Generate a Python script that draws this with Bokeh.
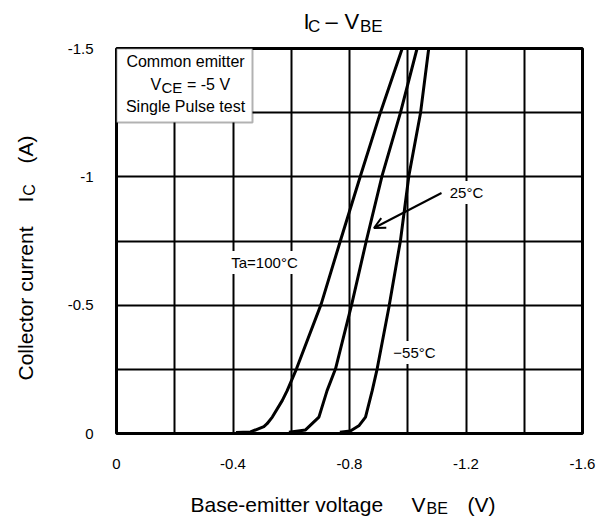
import math
from bokeh.plotting import figure
from bokeh.layouts import column, row
from bokeh.models import (Range1d, FixedTicker, CustomJSTickFormatter, Label,
                          BoxAnnotation, Arrow, OpenHead)
from bokeh.embed import file_html
from bokeh.resources import INLINE

# ---- data ----
vbe_100 = [-0.41, -0.46, -0.506, -0.517, -0.535, -0.569, -0.586, -0.618, -0.703, -0.769, -0.838, -0.906, -0.981]
ic_100 = [-0.004, -0.006, -0.027, -0.038, -0.064, -0.128, -0.167, -0.252, -0.505, -0.752, -1.005, -1.25, -1.5]

vbe_25 = [-0.592, -0.649, -0.695, -0.723, -0.752, -0.808, -0.858, -0.912, -0.975, -1.032]
ic_25 = [-0.005, -0.014, -0.064, -0.167, -0.252, -0.505, -0.752, -1.005, -1.25, -1.5]

vbe_m55 = [-0.767, -0.803, -0.832, -0.855, -0.878, -0.895, -0.935, -0.975, -1.004, -1.044, -1.072]
ic_m55 = [-0.005, -0.01, -0.03, -0.064, -0.167, -0.252, -0.49, -0.752, -1.005, -1.25, -1.5]

x_ticks = [0, -0.4, -0.8, -1.2, -1.6]
y_ticks = [0, -0.5, -1, -1.5]
x_grid = [0, -0.2, -0.4, -0.6, -0.8, -1.0, -1.2, -1.4, -1.6]
y_grid = [0, -0.25, -0.5, -0.75, -1.0, -1.25, -1.5]

FONT = "Liberation Sans"

# page layout (pixels)
W = 600
TITLE_H = 40
YLAB_W = 50
MAIN_H = 438
XLAB_H = 42
MAIN_Y0 = TITLE_H                 # main figure top on page
XLAB_Y0 = TITLE_H + MAIN_H        # x-label figure top on page
FRAME_TOP, FRAME_BOTTOM = 48, 433

p = figure(width=W - YLAB_W, height=MAIN_H, output_backend="svg", toolbar_location=None,
           title=None,
           x_range=Range1d(0, -1.6), y_range=Range1d(0, -1.5),
           min_border_left=116 - YLAB_W, min_border_right=W - 582,
           min_border_top=FRAME_TOP - MAIN_Y0, min_border_bottom=MAIN_Y0 + MAIN_H - FRAME_BOTTOM)

p.outline_line_color = "black"
p.outline_line_width = 3
p.background_fill_color = "white"
p.border_fill_color = "white"

for ax in (p.xaxis[0], p.yaxis[0]):
    ax.axis_line_color = None
    ax.major_tick_line_color = None
    ax.minor_tick_line_color = None
    ax.major_label_text_font = FONT
    ax.major_label_text_font_size = "15px"
    ax.major_label_text_color = "black"
    ax.formatter = CustomJSTickFormatter(code="return tick.toString();")
p.xaxis[0].ticker = FixedTicker(ticks=x_ticks)
p.yaxis[0].ticker = FixedTicker(ticks=y_ticks)
p.xaxis[0].major_label_standoff = 19
p.yaxis[0].major_label_standoff = 17

p.xgrid[0].ticker = FixedTicker(ticks=x_grid)
p.ygrid[0].ticker = FixedTicker(ticks=y_grid)
for g in (p.xgrid[0], p.ygrid[0]):
    g.grid_line_color = "black"
    g.grid_line_width = 2
    g.grid_line_alpha = 1.0

for xs, ys in ((vbe_100, ic_100), (vbe_25, ic_25), (vbe_m55, ic_m55)):
    p.line(xs, ys, line_color="black", line_width=3, line_join="round")


# ---- helpers: page pixel -> data coordinates of the main plot (annotation placement) ----
def px2x(px):
    return -(px - 116) * 1.6 / 466


def py2y(py):
    return -(433 - py) * 1.5 / 385


def txt(text, xpx, ypx, size, align="left", bg=None):
    lab = Label(x=px2x(xpx), y=py2y(ypx), text=text, text_font=FONT,
                text_font_size=f"{size}px", text_color="black",
                text_align=align, text_baseline="middle")
    if bg:
        lab.background_fill_color = bg
        lab.padding = 3
    p.add_layout(lab)


def blank(w, h, y_range=None, top=0, bottom=0):
    f = figure(width=w, height=h, output_backend="svg", toolbar_location=None,
               title=None, x_axis_type=None, y_axis_type=None,
               x_range=Range1d(0, w), y_range=y_range or Range1d(h, 0),
               min_border_left=0, min_border_right=0,
               min_border_top=top, min_border_bottom=bottom)
    f.outline_line_color = None
    f.background_fill_color = "white"
    f.border_fill_color = "white"
    return f


def ftxt(f, text, x, y, size, align="left", angle=0.0):
    f.add_layout(Label(x=x, y=y, text=text, text_font=FONT, text_font_size=f"{size}px",
                       text_color="black", text_align=align,
                       text_baseline="middle", angle=angle))


# Title  I_C – V_BE
t = blank(W, TITLE_H)
ftxt(t, "I", 303, 21, 22)
ftxt(t, "C", 307.5, 26, 17)
ftxt(t, "\u2013", 325, 21, 22)
ftxt(t, "V", 344, 21, 22)
ftxt(t, "BE", 359.5, 26, 17)

# y axis label (rotated); its frame spans the same page rows as the main frame
yl = blank(YLAB_W, MAIN_H, y_range=Range1d(FRAME_BOTTOM, FRAME_TOP),
           top=FRAME_TOP - MAIN_Y0, bottom=MAIN_Y0 + MAIN_H - FRAME_BOTTOM)
ang = math.pi / 2
ftxt(yl, "Collector current", 25, 303, 21, align="center", angle=ang)
ftxt(yl, "I", 25, 199, 21, align="center", angle=ang)
ftxt(yl, "C", 28.5, 189.5, 16, align="center", angle=ang)
ftxt(yl, "(A)", 25, 149, 21, align="center", angle=ang)

# x axis label
xl = blank(W, XLAB_H)
ftxt(xl, "Base-emitter voltage", 190, 504 - XLAB_Y0, 21)
ftxt(xl, "V", 411, 504 - XLAB_Y0, 21)
ftxt(xl, "BE", 426, 508 - XLAB_Y0, 16)
ftxt(xl, "(V)", 467, 504 - XLAB_Y0, 21)

# condition box
p.add_layout(BoxAnnotation(left=0, right=px2x(252), top=-1.5, bottom=py2y(122),
                           fill_color="white", fill_alpha=1.0,
                           line_color="black", line_width=2, level="annotation"))
txt("Common emitter", 185, 61, 16, align="center")
txt("V", 150, 83.5, 16)
txt("CE", 161, 86.5, 15)
txt("= -5 V", 186.5, 83.5, 16)
txt("Single Pulse test", 185, 106, 16, align="center")

# curve labels
txt("Ta=100\u00b0C", 264, 262, 15, align="center", bg="white")
txt("25\u00b0C", 466, 192, 15, align="center", bg="white")
txt("\u221255\u00b0C", 414, 352, 15, align="center", bg="white")

p.add_layout(Arrow(end=OpenHead(size=11, line_width=2, line_color="black"),
                   x_start=px2x(441), y_start=py2y(192.5),
                   x_end=px2x(373.5), y_end=py2y(227.5),
                   line_color="black", line_width=2))

layout = column(t, row(yl, p, spacing=0), xl, spacing=0)
open("out.html", "w").write(file_html(layout, INLINE))
